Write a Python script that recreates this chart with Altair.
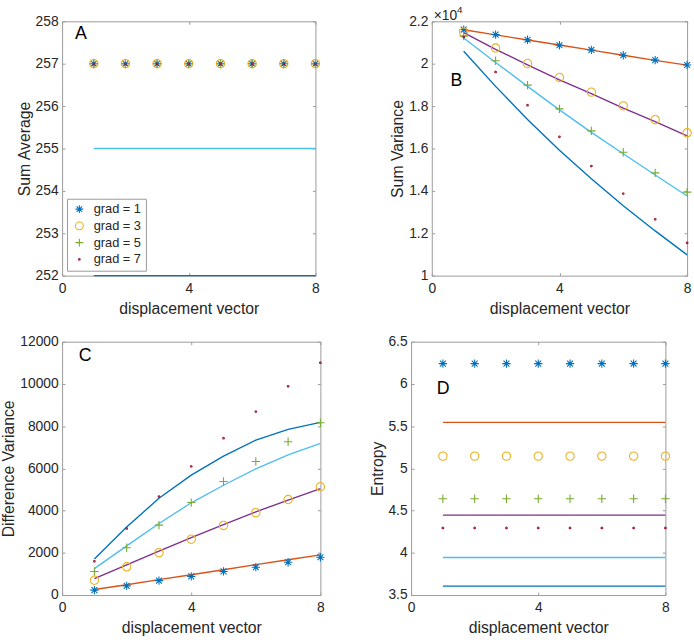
import altair as alt
import pandas as pd

# ---- shared series definitions ----
disp = [1, 2, 3, 4, 5, 6, 7, 8]
grad_names = ["grad = 1", "grad = 3", "grad = 5", "grad = 7"]
fit_names = ["fit 1", "fit 3", "fit 5", "fit 7"]
grad_colors = ["#0072BD", "#EDB120", "#77AC30", "#A2142F"]
fit_colors = ["#D95319", "#7E2F8E", "#4DBEEE", "#0072BD"]
panel_letters = ["A", "B", "C", "D"]
x_ticks = [0, 4, 8]

# ---- Sum Average ----
sa_grad1 = [257, 257, 257, 257, 257, 257, 257, 257]
sa_grad3 = [257, 257, 257, 257, 257, 257, 257, 257]
sa_grad5 = [257, 257, 257, 257, 257, 257, 257, 257]
sa_grad7 = [257, 257, 257, 257, 257, 257, 257, 257]
sa_fit5 = [255, 255, 255, 255, 255, 255, 255, 255]
sa_fit7 = [252, 252, 252, 252, 252, 252, 252, 252]
sa_ticks = [252, 253, 254, 255, 256, 257, 258]

# ---- Sum Variance ----
sv_grad1 = [21610, 21370, 21130, 20870, 20650, 20400, 20170, 19940]
sv_grad3 = [21490, 20740, 20010, 19350, 18660, 18010, 17360, 16740]
sv_grad5 = [21300, 20140, 18990, 17870, 16830, 15820, 14850, 13940]
sv_grad7 = [21260, 19610, 18040, 16550, 15170, 13870, 12660, 11550]
sv_fit1 = [21600, 21360, 21120, 20880, 20640, 20400, 20160, 19930]
sv_fit3 = [21470, 20680, 19950, 19240, 18590, 17900, 17270, 16600]
sv_fit5 = [21210, 20060, 18930, 17820, 16760, 15750, 14750, 13760]
sv_fit7 = [20590, 18930, 17370, 15920, 14570, 13300, 12110, 10980]
sv_ticks = [10000, 12000, 14000, 16000, 18000, 20000, 22000]

# ---- Difference Variance ----
dv_grad1 = [233, 434, 684, 886, 1119, 1320, 1553, 1790]
dv_grad3 = [700, 1338, 2005, 2643, 3296, 3902, 4524, 5130]
dv_grad5 = [1119, 2239, 3311, 4380, 5377, 6327, 7260, 8161]
dv_grad7 = [1600, 3156, 4664, 6094, 7430, 8688, 9887, 11006]
dv_fit1 = [260, 490, 730, 960, 1200, 1440, 1670, 1900]
dv_fit3 = [778, 1430, 2080, 2720, 3340, 3940, 4500, 5040]
dv_fit5 = [1250, 2330, 3390, 4370, 5200, 5980, 6640, 7180]
dv_fit7 = [1710, 3218, 4585, 5680, 6575, 7335, 7849, 8175]
dv_ticks = [0, 2000, 4000, 6000, 8000, 10000, 12000]

# ---- Entropy ----
en_grad1 = [6.24, 6.24, 6.24, 6.24, 6.24, 6.24, 6.24, 6.24]
en_grad3 = [5.145, 5.145, 5.145, 5.145, 5.145, 5.145, 5.145, 5.145]
en_grad5 = [4.64, 4.64, 4.64, 4.64, 4.64, 4.64, 4.64, 4.64]
en_grad7 = [4.295, 4.295, 4.295, 4.295, 4.295, 4.295, 4.295, 4.295]
en_fit1 = [5.545, 5.545, 5.545, 5.545, 5.545, 5.545, 5.545, 5.545]
en_fit3 = [4.447, 4.447, 4.447, 4.447, 4.447, 4.447, 4.447, 4.447]
en_fit5 = [3.944, 3.944, 3.944, 3.944, 3.944, 3.944, 3.944, 3.944]
en_fit7 = [3.606, 3.606, 3.606, 3.606, 3.606, 3.606, 3.606, 3.606]
en_ticks = [3.5, 4, 4.5, 5, 5.5, 6, 6.5]

# ---- styling ----
FONT = "Liberation Sans"
TEXT = "#262626"
FRAME = "#9a9a9a"
TICK = 3

# marker glyphs: asterisk, circle, plus, point
asterisk = "M0,-1L0,1M-1,0L1,0M-0.7,-0.7L0.7,0.7M-0.7,0.7L0.7,-0.7"
plus = "M0,-1L0,1M-1,0L1,0"
point = "M-0.2,0A0.2,0.2,0,1,0,0.2,0A0.2,0.2,0,1,0,-0.2,0Z"
grad_shapes = [asterisk, "circle", plus, point]


def build_frame(markers, fits):
    rows = []
    for name, vals in markers.items():
        for x, v in zip(disp, vals):
            rows.append({"x": x, "value": v, "series": name, "kind": "marker"})
    for name, vals in fits.items():
        for x, v in zip(disp, vals):
            rows.append({"x": x, "value": v, "series": name, "kind": "fit"})
    return pd.DataFrame(rows)


def panel(df, y_title, y_domain, y_ticks, y_format, width, height,
          letter, letter_pos, legend=False, y_label_expr=None, extra=()):
    x_scale = alt.Scale(domain=[0, 8], nice=False, zero=False)
    y_scale = alt.Scale(domain=y_domain, nice=False, zero=False)
    y_axis_args = dict(orient="left", values=y_ticks, title=y_title, format=y_format,
                       offset=-TICK, tickSize=TICK, domain=False, grid=False,
                       labelPadding=4, titlePadding=3, minExtent=0, labelFlush=False)
    if y_label_expr:
        y_axis_args["labelExpr"] = y_label_expr
    x_enc = alt.X("x:Q", scale=x_scale,
                  axis=alt.Axis(orient="bottom", values=x_ticks, title="displacement vector",
                                format="d", offset=-TICK, tickSize=TICK, domain=False,
                                grid=False, labelPadding=6, titlePadding=5, labelFlush=False))
    y_enc = alt.Y("value:Q", scale=y_scale, axis=alt.Axis(**y_axis_args))

    base = alt.Chart(df).encode(x=x_enc, y=y_enc)
    lines = base.transform_filter(alt.datum.kind == "fit").mark_line(strokeWidth=1.4).encode(
        stroke=alt.Stroke("series:N", scale=alt.Scale(domain=fit_names, range=fit_colors),
                          legend=None))
    if legend:
        leg = alt.Legend(orient="bottom-left", offset=5, title=None, fillColor="white",
                         strokeColor=FRAME, padding=4, labelFontSize=13, labelFont=FONT,
                         labelColor=TEXT, symbolSize=64, symbolStrokeWidth=1.1,
                         rowPadding=3, labelOffset=8, symbolOffset=2, cornerRadius=0)
    else:
        leg = None
    points = base.transform_filter(alt.datum.kind == "marker").mark_point(
        filled=False, size=72, strokeWidth=1.1, opacity=1).encode(
        color=alt.Color("series:N", scale=alt.Scale(domain=grad_names, range=grad_colors),
                        legend=leg),
        shape=alt.Shape("series:N", scale=alt.Scale(domain=grad_names, range=grad_shapes),
                        legend=leg))
    data_layer = alt.layer(lines, points)

    # inward tick marks on the top and right edges of the box
    ticks = alt.Chart(df).mark_point(opacity=0, size=1).encode(
        x=alt.X("x:Q", scale=x_scale,
                axis=alt.Axis(orient="top", values=x_ticks, labels=False, title=None,
                              domain=False, grid=False, offset=-TICK, tickSize=TICK,
                              minExtent=0)),
        y=alt.Y("value:Q", scale=y_scale,
                axis=alt.Axis(orient="right", values=y_ticks, labels=False, title=None,
                              domain=False, grid=False, offset=-TICK, tickSize=TICK,
                              minExtent=0)))

    tag = alt.Chart(pd.DataFrame({"letter": [letter]})).mark_text(
        font=FONT, fontSize=18, align="left", baseline="alphabetic", color="black").encode(
        x=alt.value(letter_pos[0]), y=alt.value(letter_pos[1]), text="letter:N")

    return alt.layer(data_layer, ticks, tag, *extra).resolve_axis(
        x="independent", y="independent").properties(width=width, height=height)


sa_df = build_frame(dict(zip(grad_names, [sa_grad1, sa_grad3, sa_grad5, sa_grad7])),
                    {"fit 5": sa_fit5, "fit 7": sa_fit7})
sv_df = build_frame(dict(zip(grad_names, [sv_grad1, sv_grad3, sv_grad5, sv_grad7])),
                    dict(zip(fit_names, [sv_fit1, sv_fit3, sv_fit5, sv_fit7])))
dv_df = build_frame(dict(zip(grad_names, [dv_grad1, dv_grad3, dv_grad5, dv_grad7])),
                    dict(zip(fit_names, [dv_fit1, dv_fit3, dv_fit5, dv_fit7])))
en_df = build_frame(dict(zip(grad_names, [en_grad1, en_grad3, en_grad5, en_grad7])),
                    dict(zip(fit_names, [en_fit1, en_fit3, en_fit5, en_fit7])))

# exponent marker above the Sum Variance axis
times_ten = alt.Chart(pd.DataFrame({"t": ["\u00d710"]})).mark_text(
    font=FONT, fontSize=14, align="left", baseline="alphabetic", color=TEXT).encode(
    x=alt.value(2), y=alt.value(-1), text="t:N")
power = alt.Chart(pd.DataFrame({"t": ["4"]})).mark_text(
    font=FONT, fontSize=10, align="left", baseline="alphabetic", color=TEXT).encode(
    x=alt.value(25.5), y=alt.value(-8), text="t:N")

pA = panel(sa_df, "Sum Average", [252, 258], sa_ticks, "d", 257, 258,
           panel_letters[0], (13, 17.5), legend=True)
pB = panel(sv_df, "Sum Variance", [10000, 22000], sv_ticks, "d", 259, 258,
           panel_letters[1], (19, 65.3), y_label_expr="format(datum.value / 10000, '.1~f')",
           extra=(times_ten, power))
pC = panel(dv_df, "Difference Variance", [0, 12000], dv_ticks, "d", 262, 257,
           panel_letters[2], (17, 20))
pD = panel(en_df, "Entropy", [3.5, 6.5], en_ticks, ".1~f", 258, 257,
           panel_letters[3], (26, 53))

indep = dict(color="independent", shape="independent", stroke="independent")
row1 = alt.hconcat(pA, pB, spacing=68).resolve_scale(**indep).resolve_legend(**indep)
row2 = alt.hconcat(pC, pD, spacing=42).resolve_scale(**indep).resolve_legend(**indep)

chart = alt.vconcat(row1, row2, spacing=17).resolve_scale(**indep).resolve_legend(
    **indep).properties(padding={"left": 0, "top": 0, "right": 0, "bottom": 0}).configure_view(
    stroke=FRAME, strokeWidth=1).configure_axis(
    labelFont=FONT, titleFont=FONT, labelFontSize=14, titleFontSize=16,
    labelColor=TEXT, titleColor=TEXT, titleFontWeight="normal",
    tickColor=FRAME, tickWidth=1).configure_legend(
    labelFont=FONT, labelFontSize=13, labelColor=TEXT, labelOffset=8,
    symbolStrokeWidth=1.1, symbolSize=64, rowPadding=3, padding=4,
    strokeColor=FRAME, fillColor="white", symbolOffset=2)

chart.save("out.html", embed_options={"renderer": "svg", "actions": False})
